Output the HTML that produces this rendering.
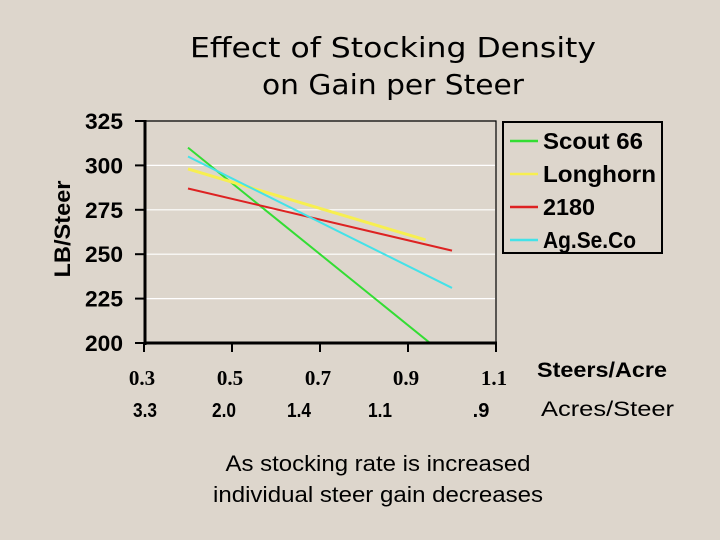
<!DOCTYPE html>
<html><head><meta charset="utf-8"><style>
html,body{margin:0;padding:0;}
body{width:720px;height:540px;background:#ddd6cc;overflow:hidden;}
svg{display:block;}
</style></head><body>
<svg id="chart" width="720" height="540" viewBox="0 0 720 540" xmlns="http://www.w3.org/2000/svg">
<rect width="720" height="540" fill="#ddd6cc"/>
<g font-family="'DejaVu Sans', sans-serif" font-size="28" fill="#000">
<text x="393" y="57" text-anchor="middle" textLength="406" lengthAdjust="spacingAndGlyphs">Effect of Stocking Density</text>
<text x="393" y="94" text-anchor="middle" textLength="262" lengthAdjust="spacingAndGlyphs">on Gain per Steer</text>
</g>
<text transform="translate(70,229) rotate(-90)" text-anchor="middle" font-family="'Liberation Sans',sans-serif" font-weight="bold" font-size="22" textLength="97" lengthAdjust="spacingAndGlyphs">LB/Steer</text>
<g id="grid"></g>
<defs><clipPath id="clip"><rect x="145" y="121" width="351" height="222"/></clipPath></defs>
<g id="series" clip-path="url(#clip)"></g>
<g id="axes"></g>
<g id="legend">
<rect x="503" y="122" width="159" height="131" fill="none" stroke="#000" stroke-width="2"/>
</g>
<text x="537" y="377" font-family="'Liberation Sans',sans-serif" font-weight="bold" font-size="21" textLength="130" lengthAdjust="spacingAndGlyphs">Steers/Acre</text>
<text x="541" y="416" font-family="'Liberation Sans',sans-serif" font-size="21" textLength="133" lengthAdjust="spacingAndGlyphs">Acres/Steer</text>
<g font-family="'Liberation Sans',sans-serif" font-size="22" text-anchor="middle">
<text x="378" y="471" textLength="305" lengthAdjust="spacingAndGlyphs">As stocking rate is increased</text>
<text x="378" y="502" textLength="330" lengthAdjust="spacingAndGlyphs">individual steer gain decreases</text>
</g>
</svg>
<script>
const yTicks=[200,225,250,275,300,325];
const xTicks=[0.3,0.5,0.7,0.9,1.1];
const xTickLabels=["0.3","0.5","0.7","0.9","1.1"];
const acresLabels=["3.3","2.0","1.4","1.1",".9"];
const seriesNames=["Scout 66","Longhorn","2180","Ag.Se.Co"];
const seriesColors=["#33dd33","#f7ef50","#dd2222","#44e2e8"];
const seriesX=[[0.4,1.0],[0.4,0.94],[0.4,1.0],[0.4,1.0]];
const seriesY=[[310,190],[298,258],[287,252],[305,231]];
const legendLabels=["Scout 66","Longhorn","2180","Ag.Se.Co"];
const legendWidths=[100,113,52,93];
const acresCenters=[145,224,299,380,481];

const NS="http://www.w3.org/2000/svg";
const X=v=>144+(v-0.3)*440;
const Y=v=>343-(v-200)*222/125;
function mk(tag,attrs,parent){const e=document.createElementNS(NS,tag);for(const k in attrs)e.setAttribute(k,attrs[k]);parent.appendChild(e);return e;}
const grid=document.getElementById('grid'),axes=document.getElementById('axes'),series=document.getElementById('series'),legend=document.getElementById('legend');
yTicks.forEach(t=>{
  if(t>200&&t<325){const g=mk('line',{x1:146,x2:495,y1:Y(t),y2:Y(t),stroke:'#fff','stroke-width':1.2},grid);
  
  }
  const tk=mk('line',{x1:135,x2:145,y1:Y(t),y2:Y(t),stroke:'#000','stroke-width':2},axes);
  
  
  const lb=mk('text',{x:123,y:Y(t)+8,'text-anchor':'end','font-family':"'Liberation Sans',sans-serif",'font-weight':'bold','font-size':22,textLength:38,lengthAdjust:'spacingAndGlyphs'},axes);
  lb.textContent=t;
  
  
});
const fr=mk('polyline',{points:`145,121 496,121 496,343`,fill:'none',stroke:'#000','stroke-width':1.2},axes);


const ya=mk('line',{x1:145,x2:145,y1:120,y2:345,stroke:'#000','stroke-width':3},axes);


const xa=mk('line',{x1:144,x2:497,y1:343,y2:343,stroke:'#000','stroke-width':3},axes);


xTicks.forEach((t,i)=>{
  const tk=mk('line',{x1:X(t),x2:X(t),y1:343,y2:352,stroke:'#000','stroke-width':2},axes);
  
  
  const lb=mk('text',{x:X(t)-2,y:385,'text-anchor':'middle','font-family':"'Liberation Serif',serif",'font-weight':'bold','font-size':21},axes);
  lb.textContent=xTickLabels[i];
  
  
  const lb2=mk('text',{x:acresCenters[i],y:417,'text-anchor':'middle','font-family':"'Liberation Sans',sans-serif",'font-weight':'bold','font-size':20},axes);
  if(acresLabels[i].length>2){lb2.setAttribute('textLength',24);lb2.setAttribute('lengthAdjust','spacingAndGlyphs');}
  lb2.textContent=acresLabels[i];
  
  
});
seriesNames.forEach((n,i)=>{
  const pts=seriesX[i].map((x,j)=>X(x)+','+Y(seriesY[i][j])).join(' ');
  const l=mk('polyline',{points:pts,fill:'none',stroke:seriesColors[i],'stroke-width':i==1?3:2},series);
  
  
  const y=141+i*33;
  const ls=mk('line',{x1:510,x2:538,y1:y,y2:y,stroke:seriesColors[i],'stroke-width':2.5},legend);
  
  
  const lt=mk('text',{x:543,y:y+8,'font-family':"'Liberation Sans',sans-serif",'font-weight':'bold','font-size':23,textLength:legendWidths[i],lengthAdjust:'spacingAndGlyphs'},legend);
  lt.textContent=legendLabels[i];
  
  
});
</script>
</body></html>
